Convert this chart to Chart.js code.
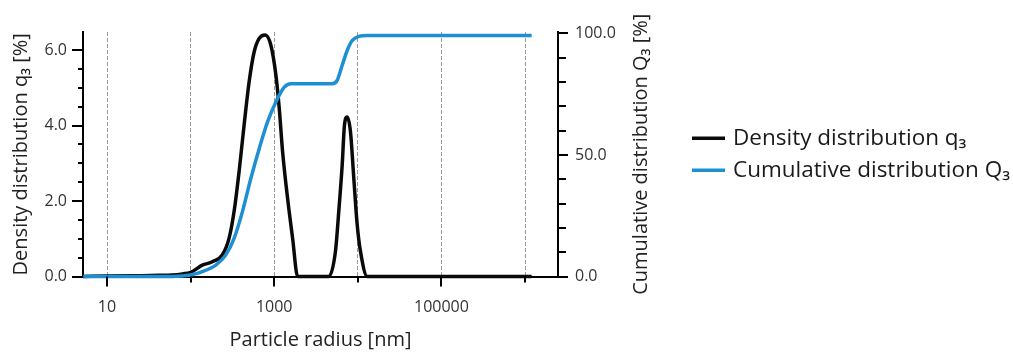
<!DOCTYPE html>
<html><head><meta charset="utf-8">
<script src="https://cdn.jsdelivr.net/npm/chart.js@4.4.1/dist/chart.umd.min.js"></script>
<style>html,body{margin:0;padding:0;background:#fff}#wrap{width:1013px;height:355px;position:relative}</style>
</head><body><div id="wrap"><canvas id="c" width="1013" height="355"></canvas></div>
<script>
// ---- data ----
const densityX = [5.2, 10, 20, 42, 60, 80, 100, 138, 182, 239, 288, 331, 380, 436, 501, 575, 661, 780, 912, 1047, 1148, 1259, 1445, 1660, 1905, 4487, 5395, 5915, 6500, 6918, 7459, 8165, 8954, 9840, 10770, 12970, 1200000];
const densityY = [0, 0.01, 0.02, 0.03, 0.04, 0.07, 0.11, 0.30, 0.39, 0.57, 1.01, 1.72, 2.78, 4.01, 5.16, 5.95, 6.31, 6.40, 6.13, 5.34, 4.46, 3.31, 2.07, 1.01, 0, 0, 0.66, 1.72, 2.95, 4.01, 4.23, 3.84, 2.60, 1.36, 0.66, 0, 0];
const cumX = [5.2, 60, 100, 138, 200, 263, 331, 416, 525, 661, 832, 1047, 1318, 1585, 4932, 5662, 6500, 7459, 8570, 10280, 12970, 1200000];
const cumY = [0, 0, 0.6, 2, 4.7, 8.8, 15.7, 26.6, 40.3, 52.6, 63.6, 71.8, 77.9, 79.3, 79.3, 80.7, 86.9, 93.0, 97.1, 98.8, 99.2, 99.2];

const xTickValues = [10, 100, 1000, 10000, 100000, 1000000];
const xTickLabels = ['10', '', '1000', '', '100000', ''];
const leftTickValues = [0, 0.5, 1, 1.5, 2, 2.5, 3, 3.5, 4, 4.5, 5, 5.5, 6];
const leftTickLabels = ['0.0', '', '', '', '2.0', '', '', '', '4.0', '', '', '', '6.0'];
const rightTickValues = [0, 10, 20, 30, 40, 50, 60, 70, 80, 90, 100];
const rightTickLabels = ['0.0', '', '', '', '', '50.0', '', '', '', '', '100.0'];

const seriesNames = ['Density distribution q\u2083', 'Cumulative distribution Q\u2083'];
const axisTitles = {x: 'Particle radius [nm]', y: 'Density distribution q\u2083 [%]', y2: 'Cumulative distribution Q\u2083 [%]'};

const FONT = "'Open Sans', 'Noto Sans', sans-serif";
const BLUE = '#1e8fd3';
const BLACK = '#0a0a0a';
const TITLE_SIZE = 20;

const toPts = (xs, ys) => xs.map((x, i) => ({x: x, y: ys[i]}));

const AREA_RIGHT = 558, RIGHT_AXIS_W = 122;

const tickPlugin = {
  id: 'customTicks',
  afterDraw(chart) {
    const ctx = chart.ctx;
    const {x, y, y2} = chart.scales;
    ctx.save();
    ctx.strokeStyle = '#000';
    ctx.lineWidth = 2;
    ctx.beginPath();
    x.ticks.forEach(t => {
      const px = Math.round(x.getPixelForValue(t.value));
      const len = xTickLabels[xTickValues.indexOf(t.value)] ? 10 : 6;
      ctx.moveTo(px, x.top); ctx.lineTo(px, x.top + len);
    });
    y.ticks.forEach(t => {
      const py = Math.round(y.getPixelForValue(t.value));
      const len = leftTickLabels[leftTickValues.indexOf(t.value)] ? 11 : 5;
      ctx.moveTo(y.right - len, py); ctx.lineTo(y.right, py);
    });
    y2.ticks.forEach(t => {
      const py = Math.round(y2.getPixelForValue(t.value));
      const len = rightTickLabels[rightTickValues.indexOf(t.value)] ? 10 : 8;
      ctx.moveTo(y2.left, py); ctx.lineTo(y2.left + len, py);
    });
    ctx.stroke();
    // right axis title, reading bottom-to-top like the left one
    ctx.font = TITLE_SIZE + 'px ' + FONT;
    ctx.fillStyle = '#222';
    ctx.textAlign = 'center';
    ctx.textBaseline = 'middle';
    ctx.translate(y2.left + 83, (y2.top + y2.bottom) / 2);
    ctx.rotate(-Math.PI / 2);
    ctx.fillText(axisTitles.y2, 0, 0);
    ctx.restore();
  }
};

// legend drawn beside the plot, from the chart's own datasets
const legendPlugin = {
  id: 'sideLegend',
  afterDraw(chart) {
    const ctx = chart.ctx;
    const area = chart.chartArea;
    const cy = (area.top + area.bottom) / 2;
    const gap = 32;
    const x0 = 692, boxW = 33, textX = 733;
    ctx.save();
    ctx.font = '22.5px ' + FONT;
    ctx.textBaseline = 'middle';
    ctx.textAlign = 'left';
    ctx.fillStyle = '#1a1a1a';
    chart.data.datasets.forEach((ds, i) => {
      const yy = cy + (i - (chart.data.datasets.length - 1) / 2) * gap;
      ctx.strokeStyle = ds.borderColor;
      ctx.lineWidth = ds.borderWidth;
      ctx.beginPath(); ctx.moveTo(x0, yy); ctx.lineTo(x0 + boxW, yy); ctx.stroke();
      ctx.fillText(ds.label, textX, yy);
    });
    ctx.restore();
  }
};

new Chart(document.getElementById('c'), {
  type: 'line',
  data: {
    datasets: [
      {label: seriesNames[0], data: toPts(densityX, densityY), yAxisID: 'y', borderColor: BLACK, backgroundColor: BLACK,
       borderWidth: 3.5, pointRadius: 0, cubicInterpolationMode: 'monotone', order: 1, clip: 6},
      {label: seriesNames[1], data: toPts(cumX, cumY), yAxisID: 'y2', borderColor: BLUE, backgroundColor: BLUE,
       borderWidth: 3.5, pointRadius: 0, cubicInterpolationMode: 'monotone', order: 0, clip: 6}
    ]
  },
  options: {
    responsive: false,
    animation: false,
    layout: {padding: {top: 32, left: 0, right: 1013 - AREA_RIGHT - RIGHT_AXIS_W, bottom: 0}},
    plugins: {
      tooltip: {enabled: false},
      legend: {display: false}
    },
    scales: {
      x: {
        type: 'logarithmic', position: 'bottom', min: 5.16, max: 2.48e6,
        afterBuildTicks: s => { s.ticks = xTickValues.map(v => ({value: v})); },
        afterFit: s => { s.height = 78.5; },
        ticks: {
          autoSkip: false, maxRotation: 0, padding: 11, color: '#333',
          font: {family: FONT, size: 16},
          callback: (v) => { const i = xTickValues.indexOf(v); return i >= 0 ? xTickLabels[i] : ''; }
        },
        grid: {color: '#9a9a9a', lineWidth: 1, tickLength: 10, tickColor: 'rgba(0,0,0,0)'},
        border: {display: true, color: '#000', width: 2, dash: [4, 2]},
        title: {display: true, text: axisTitles.x, color: '#222', font: {family: FONT, size: TITLE_SIZE}, padding: {top: 0, bottom: 3}}
      },
      y: {
        position: 'left', min: 0, max: 6.48,
        afterBuildTicks: s => { s.ticks = leftTickValues.map(v => ({value: v})); },
        afterFit: s => { s.width = 83; },
        ticks: {
          autoSkip: false, padding: 5, color: '#333', font: {family: FONT, size: 16},
          callback: (v) => { const i = leftTickValues.indexOf(v); return i >= 0 ? leftTickLabels[i] : ''; }
        },
        grid: {drawOnChartArea: false, tickLength: 11, tickColor: 'rgba(0,0,0,0)'},
        border: {display: true, color: '#000', width: 2},
        title: {display: true, text: axisTitles.y, color: '#222', font: {family: FONT, size: TITLE_SIZE}, padding: {top: 9, bottom: 0}}
      },
      y2: {
        position: 'right', min: 0, max: 100.6,
        afterBuildTicks: s => { s.ticks = rightTickValues.map(v => ({value: v})); },
        afterFit: s => { s.width = RIGHT_AXIS_W; },
        ticks: {
          autoSkip: false, padding: 7, color: '#333', font: {family: FONT, size: 16},
          callback: (v) => { const i = rightTickValues.indexOf(v); return i >= 0 ? rightTickLabels[i] : ''; }
        },
        grid: {drawOnChartArea: false, tickLength: 10, tickColor: 'rgba(0,0,0,0)'},
        border: {display: true, color: '#000', width: 2},
        title: {display: false}
      }
    }
  },
  plugins: [tickPlugin, legendPlugin]
});
</script>
</body></html>
